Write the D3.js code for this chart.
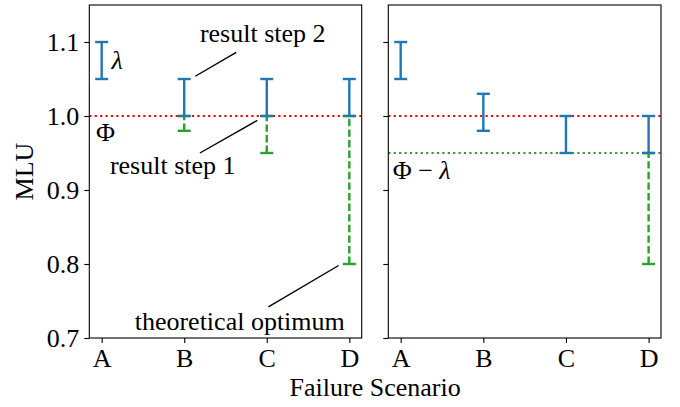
<!DOCTYPE html>
<html>
<head>
<meta charset="utf-8">
<script src="https://cdn.jsdelivr.net/npm/d3@7"></script>
<style>
  body { margin: 0; background: #fff; }
</style>
</head>
<body>
<div id="chart"></div>
<script>
const scenarios = ["A", "B", "C", "D"];
const yTicks = [0.7, 0.8, 0.9, 1.0, 1.1];

// left panel: result of step 2 (blue) and theoretical optimum gap (green, dashed)
const leftBlueLow  = [1.05, 1.00, 1.00, 1.00];
const leftBlueHigh = [1.10, 1.05, 1.05, 1.05];
const leftGreenLow  = [null, 0.98, 0.95, 0.80];
const leftGreenHigh = [null, 1.00, 1.00, 1.00];

// right panel
const rightBlueLow  = [1.05, 0.98, 0.95, 0.95];
const rightBlueHigh = [1.10, 1.03, 1.00, 1.00];
const rightGreenLow  = [null, null, null, 0.80];
const rightGreenHigh = [null, null, null, 0.95];

const phi = 1.0;
const phiMinusLambda = 0.95;

const width = 680, height = 407;
const fontSize = 26;
const serif = "Liberation Serif, Times New Roman, serif";
const blue = "#1f77b4", green = "#2ca02c";
const lw = 2.4;

const svg = d3.select("#chart")
    .append("svg")
    .attr("width", width)
    .attr("height", height)
    .attr("font-family", serif);

const plotTop = 5, plotBottom = 338;
const panels = [
    { x0: 89.3, x1: 361.7 },
    { x0: 388.3, x1: 661 }
];

const y = d3.scaleLinear().domain([0.7, 1.15]).range([plotBottom, plotTop]);

function makeX(p) {
    return d3.scaleLinear().domain([-0.15, 3.15]).range([p.x0, p.x1]);
}

function errorBars(g, x, lows, highs, color, dashed) {
    lows.forEach(function (lo, i) {
        if (lo === null) return;
        const hi = highs[i];
        g.append("line")
            .attr("x1", x(i)).attr("x2", x(i))
            .attr("y1", y(lo)).attr("y2", y(hi))
            .attr("stroke", color)
            .attr("stroke-width", lw)
            .attr("stroke-dasharray", dashed ? "7.4,3.2" : null);
        [lo, hi].forEach(function (v) {
            g.append("line")
                .attr("x1", x(i) - 6.5).attr("x2", x(i) + 6.5)
                .attr("y1", y(v)).attr("y2", y(v))
                .attr("stroke", color)
                .attr("stroke-width", lw);
        });
    });
}

function hline(g, p, v, color) {
    g.append("line")
        .attr("x1", p.x0).attr("x2", p.x1)
        .attr("y1", y(v)).attr("y2", y(v))
        .attr("stroke", color)
        .attr("stroke-width", 2.2)
        .attr("stroke-dasharray", "2.2,3.2");
}

function drawAxes(g, p, x, showLabels) {
    const yAxis = d3.axisLeft(y).tickValues(yTicks).tickSize(5).tickPadding(5)
        .tickFormat(showLabels ? d3.format(".1f") : "");
    const ya = g.append("g").attr("transform", "translate(" + p.x0 + ",0)").call(yAxis);
    const xAxis = d3.axisBottom(x).tickValues([0, 1, 2, 3]).tickSize(5).tickPadding(6)
        .tickFormat(function (d) { return scenarios[d]; });
    const xa = g.append("g").attr("transform", "translate(0," + plotBottom + ")").call(xAxis);
    [ya, xa].forEach(function (a) {
        a.attr("font-family", serif).attr("font-size", fontSize);
        a.select(".domain").remove();
        a.selectAll("text").attr("fill", "#000");
        a.selectAll("line").attr("stroke", "#000").attr("stroke-width", 1.1);
    });
    g.append("rect")
        .attr("x", p.x0).attr("y", plotTop)
        .attr("width", p.x1 - p.x0).attr("height", plotBottom - plotTop)
        .attr("fill", "none")
        .attr("stroke", "#000")
        .attr("stroke-width", 1.1);
}

function label(g, x, xv, yv, txt, italic) {
    return g.append("text")
        .attr("x", x(xv)).attr("y", y(yv))
        .attr("font-family", serif)
        .attr("font-size", fontSize)
        .attr("font-style", italic ? "italic" : null)
        .text(txt);
}

function leader(g, x, a, b) {
    g.append("line")
        .attr("x1", x(a[0])).attr("y1", y(a[1]))
        .attr("x2", x(b[0])).attr("y2", y(b[1]))
        .attr("stroke", "#000")
        .attr("stroke-width", 1.4);
}

// left panel
const pL = panels[0], xL = makeX(pL);
const gL = svg.append("g");
hline(gL, pL, phi, "#ff0000");
errorBars(gL, xL, leftGreenLow, leftGreenHigh, green, true);
errorBars(gL, xL, leftBlueLow, leftBlueHigh, blue, false);
drawAxes(gL, pL, xL, true);
label(gL, xL, 0.12, 1.063, "λ", true);
label(gL, xL, -0.07, 0.966, "Φ", false);
label(gL, xL, 1.19, 1.1, "result step 2", false);
leader(gL, xL, [1.134, 1.0537], [1.63, 1.086]);
label(gL, xL, 0.10, 0.921, "result step 1", false);
leader(gL, xL, [1.885, 0.994], [1.19, 0.95]);
label(gL, xL, 0.40, 0.711, "theoretical optimum", false);
leader(gL, xL, [2.87, 0.798], [2.02, 0.742]);

// right panel
const pR = panels[1], xR = makeX(pR);
const gR = svg.append("g");
hline(gR, pR, phi, "#ff0000");
hline(gR, pR, phiMinusLambda, green);
errorBars(gR, xR, rightGreenLow, rightGreenHigh, green, true);
errorBars(gR, xR, rightBlueLow, rightBlueHigh, blue, false);
drawAxes(gR, pR, xR, false);
const pl = gR.append("text")
    .attr("x", xR(-0.097)).attr("y", y(0.915))
    .attr("font-family", serif)
    .attr("font-size", fontSize);
pl.append("tspan").text("Φ − ");
pl.append("tspan").attr("font-style", "italic").text("λ");

// axis titles
svg.append("text")
    .attr("x", (pL.x0 + pR.x1) / 2).attr("y", 396)
    .attr("text-anchor", "middle")
    .attr("font-size", fontSize)
    .text("Failure Scenario");

svg.append("text")
    .attr("transform", "translate(33," + (plotTop + plotBottom) / 2 + ") rotate(-90)")
    .attr("text-anchor", "middle")
    .attr("font-size", fontSize)
    .text("MLU");
</script>
</body>
</html>
